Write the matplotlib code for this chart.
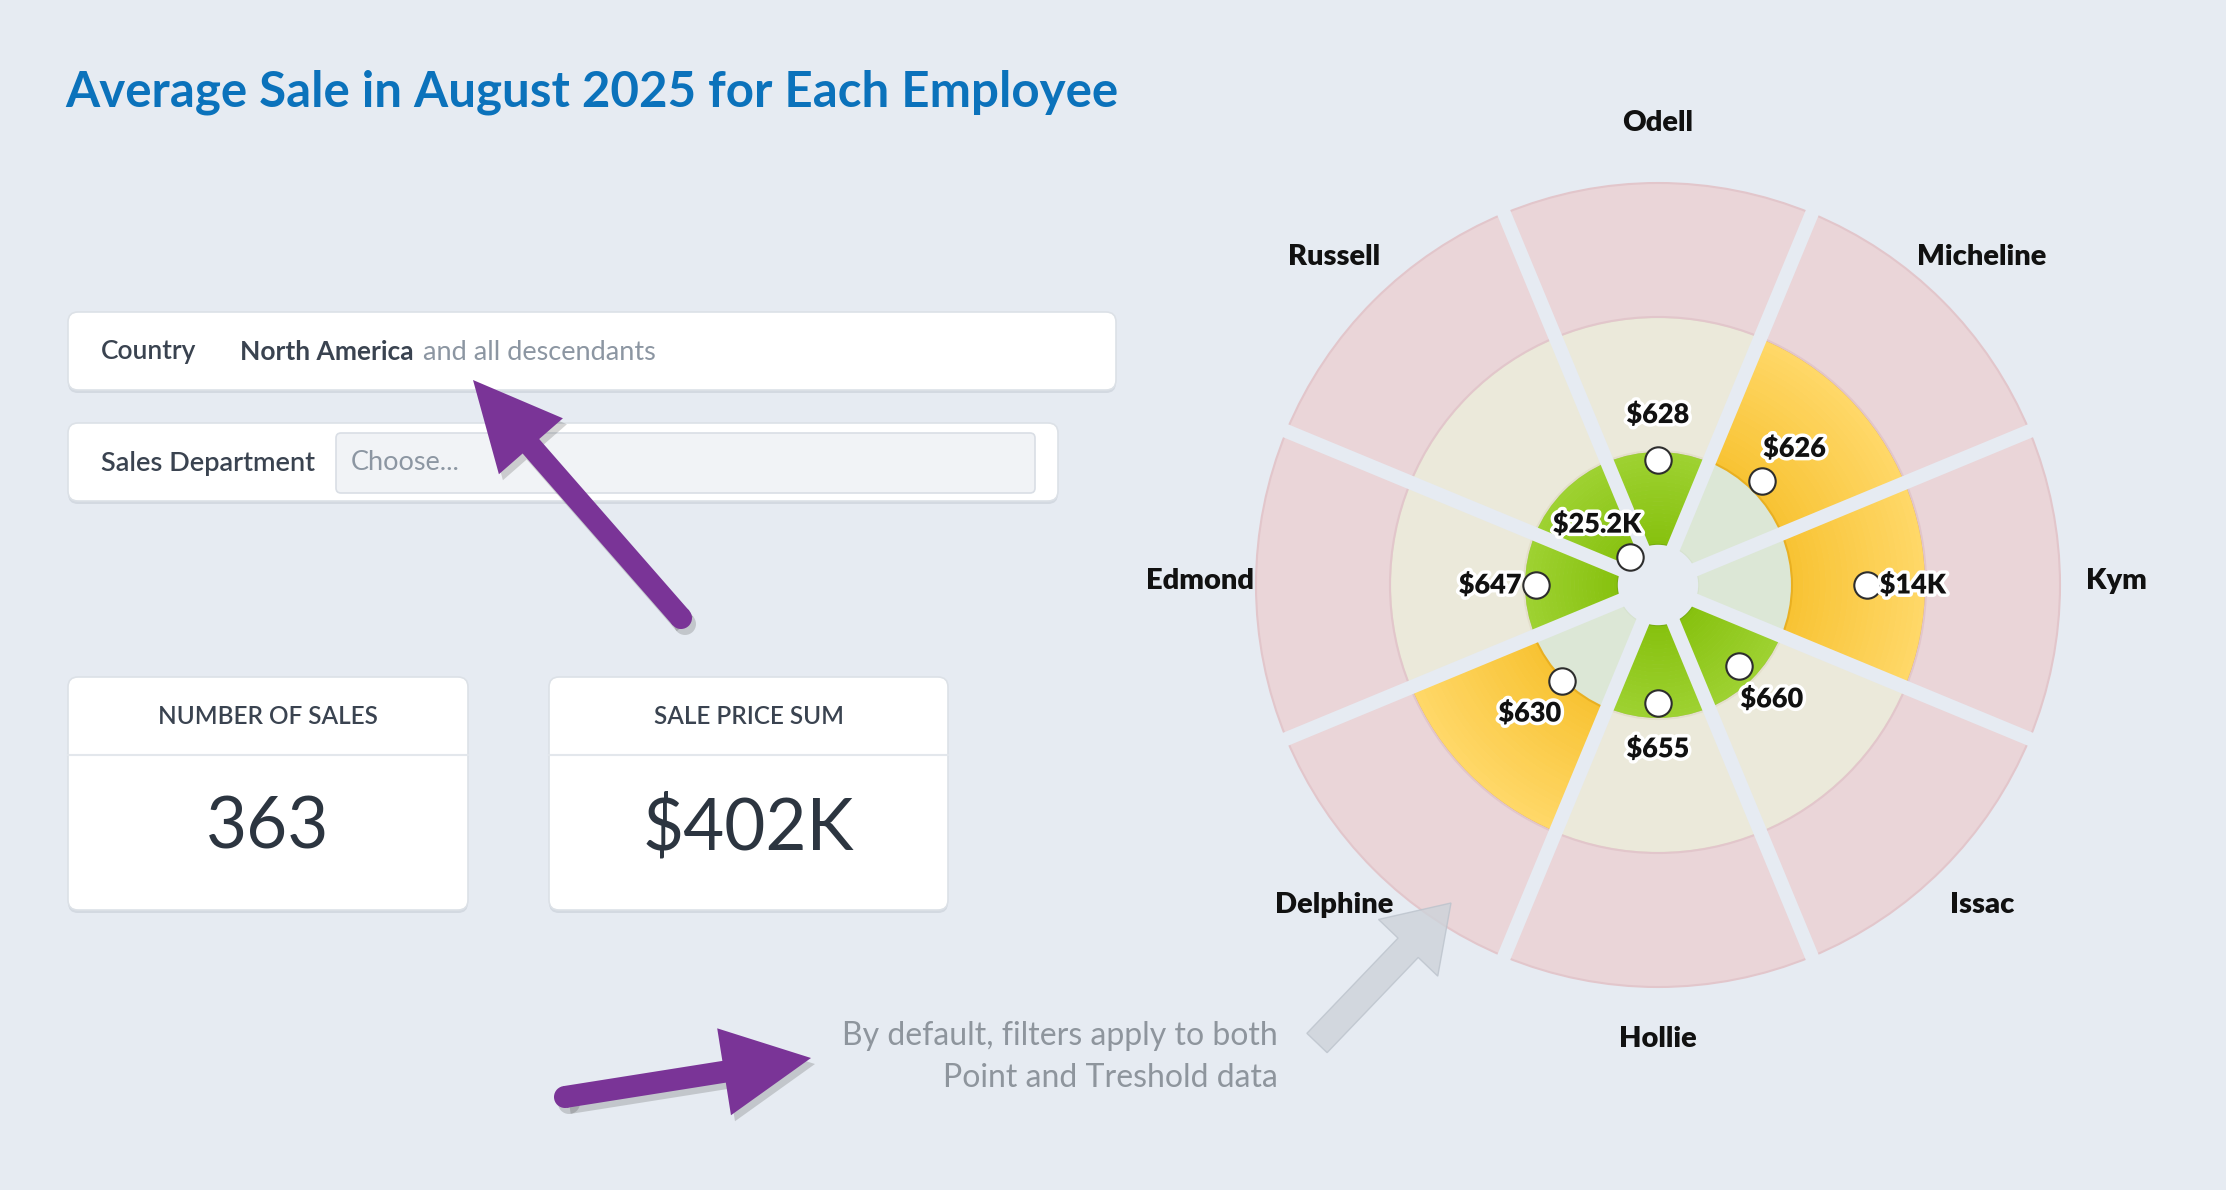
import numpy as np
import matplotlib.pyplot as plt
from matplotlib.patches import FancyBboxPatch, FancyArrow, Circle
from matplotlib.colors import to_rgb
import matplotlib.patheffects as pe

plt.rcParams['font.family'] = ['Lato', 'DejaVu Sans']

# ---- data ----
employees = ["Odell", "Micheline", "Kym", "Issac", "Hollie", "Delphine", "Edmond", "Russell"]
avg_sale_labels = ["$628", "$626", "$14K", "$660", "$655", "$630", "$647", "$25.2K"]
# gauge position of each point (0.3 = inner edge, 1 / 2 / 3 = zone limits)
point_pos = [0.93, 1.10, 1.56, 0.86, 0.88, 1.01, 0.91, 0.30]
zone_edges = [0.3, 1.0, 2.0, 3.0]

number_of_sales = "363"
sale_price_sum = "$402K"
country_value = "North America"

# ---- style ----
W, H = 2226, 1190
BG = "#e6ebf2"
zone_dim = ["#dce7d6", "#ebe9da", "#ead5d8"]
zone_dim_edge = ["#d6e2cf", "#e4dfcb", "#e2c6cb"]
zone_on_in = ["#86c10e", "#f8c333", "#e8564f"]
zone_on_out = ["#9ed232", "#ffd869", "#f07a70"]
zone_on_edge = ["#78ad12", "#e9b021", "#c94440"]
DARK = "#3a4350"
GREY = "#8c96a2"
PURPLE = "#7a3497"

fig = plt.figure(figsize=(W / 100, H / 100), dpi=100, facecolor=BG)

# background layer in pixel coordinates
bg = fig.add_axes([0, 0, 1, 1], zorder=0)
bg.set_xlim(0, W)
bg.set_ylim(H, 0)
bg.axis("off")


def box(ax, x0, y0, x1, y1, fc="white", ec="#dce1e7", r=10, shadow=True):
    if shadow:
        ax.add_patch(FancyBboxPatch((x0, y0 + 3), x1 - x0, y1 - y0,
                                    boxstyle=f"round,pad=0,rounding_size={r}",
                                    fc="#d3d9e1", ec="none"))
    ax.add_patch(FancyBboxPatch((x0, y0), x1 - x0, y1 - y0,
                                boxstyle=f"round,pad=0,rounding_size={r}",
                                fc=fc, ec=ec, lw=1.2))


bg.text(65, 92, "Average Sale in August 2025 for Each Employee", color="#0b72bb",
        fontsize=35.5, fontweight="bold", va="center", ha="left")

# filters
box(bg, 68, 312, 1116, 390)
bg.text(101, 352, "Country", color=DARK, fontsize=19, fontweight="semibold", va="center")
bg.text(240, 352, country_value, color=DARK, fontsize=19, fontweight="bold", va="center")
bg.text(423, 352, "and all descendants", color=GREY, fontsize=19.5, va="center")

box(bg, 68, 423, 1058, 501)
bg.text(101, 463, "Sales Department", color=DARK, fontsize=19.5, fontweight="semibold", va="center")
box(bg, 336, 433, 1035, 493, fc="#f1f3f6", ec="#d9dee5", r=5, shadow=False)
bg.text(351, 463, "Choose...", color=GREY, fontsize=19.5, va="center")

# KPI cards
for (x0, x1), title, val in [((68, 468), "NUMBER OF SALES", number_of_sales),
                             ((549, 948), "SALE PRICE SUM", sale_price_sum)]:
    box(bg, x0, 677, x1, 910)
    bg.plot([x0, x1], [755, 755], color="#e3e7ec", lw=1.5)
    bg.text((x0 + x1) / 2, 717, title, color=DARK, fontsize=17.5, fontweight="semibold",
            ha="center", va="center")
    bg.text((x0 + x1) / 2, 828, val, color="#2c3540", fontsize=51, ha="center", va="center")

bg.text(1278, 1036, "By default, filters apply to both", color="#8e959d", fontsize=23,
        ha="right", va="center")
bg.text(1278, 1078, "Point and Treshold data", color="#8e959d", fontsize=23,
        ha="right", va="center")

# ---- polar gauge ----
cx, cy, unit = 1658, 585, 134
rmax = 3.06
R = unit * rmax
ax = fig.add_axes([(cx - R) / W, (H - cy - R) / H, 2 * R / W, 2 * R / H],
                  projection="polar", zorder=1)
ax.set_theta_offset(np.pi / 2)
ax.set_theta_direction(-1)
ax.set_ylim(0, rmax)
ax.set_facecolor("none")
ax.axis("off")

n = len(employees)
theta = np.arange(n) * 2 * np.pi / n
width = 2 * np.pi / n
active = np.searchsorted(zone_edges, point_pos, side="right") - 1
active = np.clip(active, 0, 2)

steps = 24
for z in range(3):
    r0, r1 = zone_edges[z], zone_edges[z + 1]
    on = active == z
    dim_t = theta[~on]
    if len(dim_t):
        ax.bar(dim_t, r1 - r0, width=width, bottom=r0, color=zone_dim[z],
               edgecolor=zone_dim_edge[z], linewidth=1.5, align="center")
    on_t = theta[on]
    if len(on_t):
        # radial shading for the highlighted band
        c_in, c_out = np.array(to_rgb(zone_on_in[z])), np.array(to_rgb(zone_on_out[z]))
        edges = np.linspace(r0, r1, steps + 1)
        for k in range(steps):
            f = (k + 0.5) / steps
            ax.bar(on_t, edges[k + 1] - edges[k] + 0.005, width=width, bottom=edges[k],
                   color=c_in * (1 - f) + c_out * f, linewidth=0, align="center")
        ax.bar(on_t, r1 - r0, width=width, bottom=r0, color="none",
               edgecolor=zone_on_edge[z], linewidth=1.5, align="center")

# separators between sectors
for tb in theta + width / 2:
    ax.plot([tb, tb], [0, rmax], color=BG, lw=10, solid_capstyle="butt", zorder=3)
ax.bar([0], [0.3], width=2 * np.pi, bottom=0, color=BG, zorder=3)

ax.plot(theta, point_pos, "o", ms=19, mfc="white", mec="#2d2d2d", mew=1.5, zorder=5)

halo = [pe.withStroke(linewidth=5, foreground="white")]
for t, p, lab in zip(theta, point_pos, avg_sale_labels):
    off = 33
    ax.annotate(lab, (t, p), xytext=(off * np.sin(t), off * np.cos(t)),
                textcoords="offset points", ha="center", va="center",
                fontsize=19.5, fontweight="heavy", color="#111111",
                path_effects=halo, zorder=6)

for t, name in zip(theta, employees):
    ax.annotate(name, (t, 3.42), xytext=(0, 3), textcoords="offset points",
                ha="center", va="center", fontsize=21, fontweight="heavy",
                color="#111111", annotation_clip=False)

# ---- arrows on top ----
top = fig.add_axes([0, 0, 1, 1], zorder=2)
top.set_xlim(0, W)
top.set_ylim(H, 0)
top.axis("off")


def arrow(ax, x0, y0, x1, y1, w, hw, hl, fc, ec="none", shadow=True, alpha=1.0):
    if shadow:
        ax.add_patch(FancyArrow(x0 + 4, y0 + 6, x1 - x0, y1 - y0, width=w, head_width=hw,
                                head_length=hl, length_includes_head=True,
                                fc="#444444", ec="none", alpha=0.22))
        ax.add_patch(Circle((x0 + 4, y0 + 6), w / 2, fc="#444444", ec="none", alpha=0.22))
    ax.add_patch(FancyArrow(x0, y0, x1 - x0, y1 - y0, width=w, head_width=hw,
                            head_length=hl, length_includes_head=True,
                            fc=fc, ec=ec, alpha=alpha))
    if shadow:
        ax.add_patch(Circle((x0, y0), w / 2, fc=fc, ec="none"))


arrow(top, 681, 618, 473, 380, 22, 85, 88, PURPLE)
arrow(top, 565, 1097, 811, 1058, 22, 88, 88, PURPLE)
arrow(top, 1317, 1043, 1451, 903, 28, 82, 62, "#cdd3da", ec="#bcc3cc", shadow=False, alpha=0.8)

fig.savefig("out.png", dpi=100, facecolor=BG)
